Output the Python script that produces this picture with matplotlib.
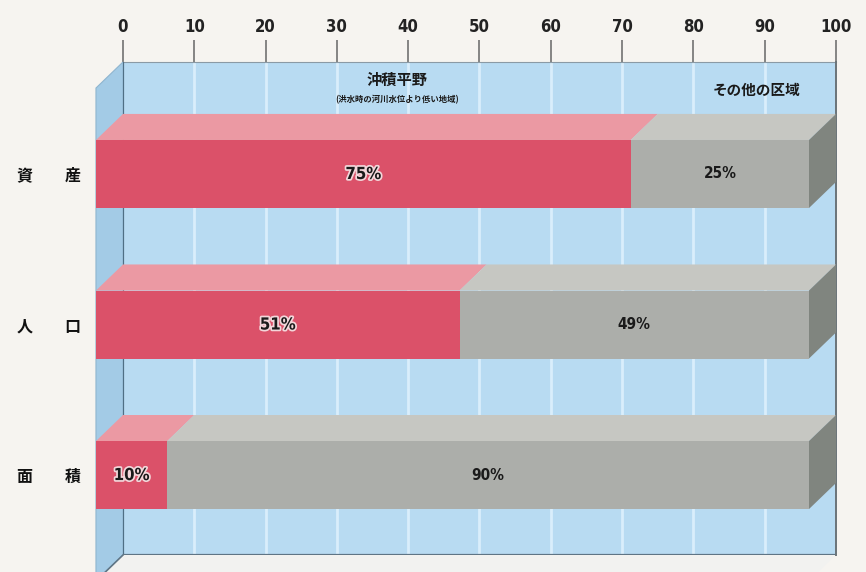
import matplotlib.pyplot as plt
import matplotlib.patheffects as pe
from matplotlib.patches import Polygon
import numpy as np

plt.rcParams['font.family'] = ['Noto Sans CJK JP', 'DejaVu Sans']

# data
categories = ["資産", "人口", "面積"]
lowland = [75, 51, 10]      # 沖積平野
other = [25, 49, 90]        # その他の区域
ticks = list(range(0, 101, 10))

# colours
bg = '#f6f4f0'
wall_back = '#b8dbf2'
wall_left = '#a3cbe6'
grid_c = '#d9eefb'
red_front = '#db5169'
red_top = '#eb99a3'
grey_front = '#acaeaa'
grey_top = '#c6c7c2'
grey_side = '#80857f'

fig = plt.figure(figsize=(8.66, 5.72), dpi=100, facecolor=bg)
# axes = back wall of the box
ax = fig.add_axes([123/866, 17/572, 713/866, 493/572])
ax.set_xlim(0, 100)
ax.set_ylim(2.704, -0.571)
ax.set_facecolor(wall_back)

# oblique offset of the front plane (data units)
dx = -3.79
dy = 0.173
h = 0.226

def poly(pts, fc, z, ec='none', lw=0):
    ax.add_patch(Polygon(pts, closed=True, facecolor=fc, edgecolor=ec,
                         linewidth=lw, zorder=z, clip_on=False))

y0, y1 = ax.get_ylim()[1], ax.get_ylim()[0]

# grid on the back wall
for t in ticks[1:-1]:
    ax.axvline(t, color=grid_c, lw=2, zorder=1)

# left wall
poly([(0, y0), (0, y1), (dx, y1 + dy), (dx, y0 + dy)], wall_left, 2,
     ec='#8fb5cf', lw=0.8)
# floor
poly([(0, y1), (100, y1), (100 + dx, y1 + dy), (dx, y1 + dy)], '#f2f2f0', 2)
ax.plot([0, 0], [y0, y1], color='#4f6f85', lw=1.6, zorder=3)
ax.plot([0, 100], [y1, y1], color='#5f7585', lw=1.6, zorder=3)
ax.plot([100, 100], [y0, y1], color='#6a7378', lw=1.4, zorder=3, clip_on=False)
ax.plot([0, dx], [y1, y1 + dy], color='#5f7585', lw=1.2, zorder=3, clip_on=False)

for sp in ax.spines.values():
    sp.set_visible(False)
ax.spines['top'].set_visible(True)
ax.spines['top'].set_color('#8a9aa5')
ax.spines['top'].set_linewidth(0.8)

# 3D stacked bars
for i, (a, b) in enumerate(zip(lowland, other)):
    top = i - h
    bot = i + h
    segs = [(0, a, red_front, red_top), (a, a + b, grey_front, grey_top)]
    for s, e, fc, tc in segs:
        poly([(s, top), (e, top), (e + dx, top + dy), (s + dx, top + dy)], tc, 5)
        poly([(s + dx, top + dy), (e + dx, top + dy), (e + dx, bot + dy),
              (s + dx, bot + dy)], fc, 6)
    end = a + b
    poly([(end, top), (end + dx, top + dy), (end + dx, bot + dy), (end, bot)],
         grey_side, 5)

    ax.text(a / 2 + dx, i + dy, f"{a}%", ha='center', va='center',
            fontsize=12, fontweight='bold', family='DejaVu Sans',
            fontstretch='condensed', color='#1a1a1a', zorder=8,
            path_effects=[pe.withStroke(linewidth=2.5, foreground='#f3d6da')])
    ax.text(a + b / 2 + dx, i + dy, f"{b}%", ha='center', va='center',
            fontsize=11, fontweight='bold', family='DejaVu Sans',
            fontstretch='condensed', color='#1a1a1a', zorder=8)

# axis ticks on top
ax.xaxis.tick_top()
ax.set_xticks(ticks)
ax.set_xticklabels([str(t) for t in ticks], fontsize=12, fontweight='bold',
                   family='DejaVu Sans', fontstretch='condensed', color='#222222')
ax.tick_params(axis='x', direction='out', length=16, width=1.1, color='#666666', pad=3)

# category labels at the front plane
rows = np.arange(len(categories))
ax.set_yticks(rows + dy)
ax.set_yticklabels(["\u3000\u3000".join(c) for c in categories], fontsize=11.5,
                   fontweight='bold', color='#111111')
ax.tick_params(axis='y', length=0, pad=30)

# region labels on the wall
ax.text(38.4, -0.452, "沖積平野", ha='center', va='center', fontsize=11,
        fontweight='bold', color='#1a1a1a', zorder=4)
ax.text(38.4, -0.322, "(洪水時の河川水位より低い地域)", ha='center', va='center',
        fontsize=6, fontweight='bold', color='#1a1a1a', zorder=4)
ax.text(88.8, -0.385, "その他の区域", ha='center', va='center', fontsize=10.5,
        fontweight='bold', color='#1a1a1a', zorder=4)

fig.savefig('out.png', dpi=100, facecolor=bg)
